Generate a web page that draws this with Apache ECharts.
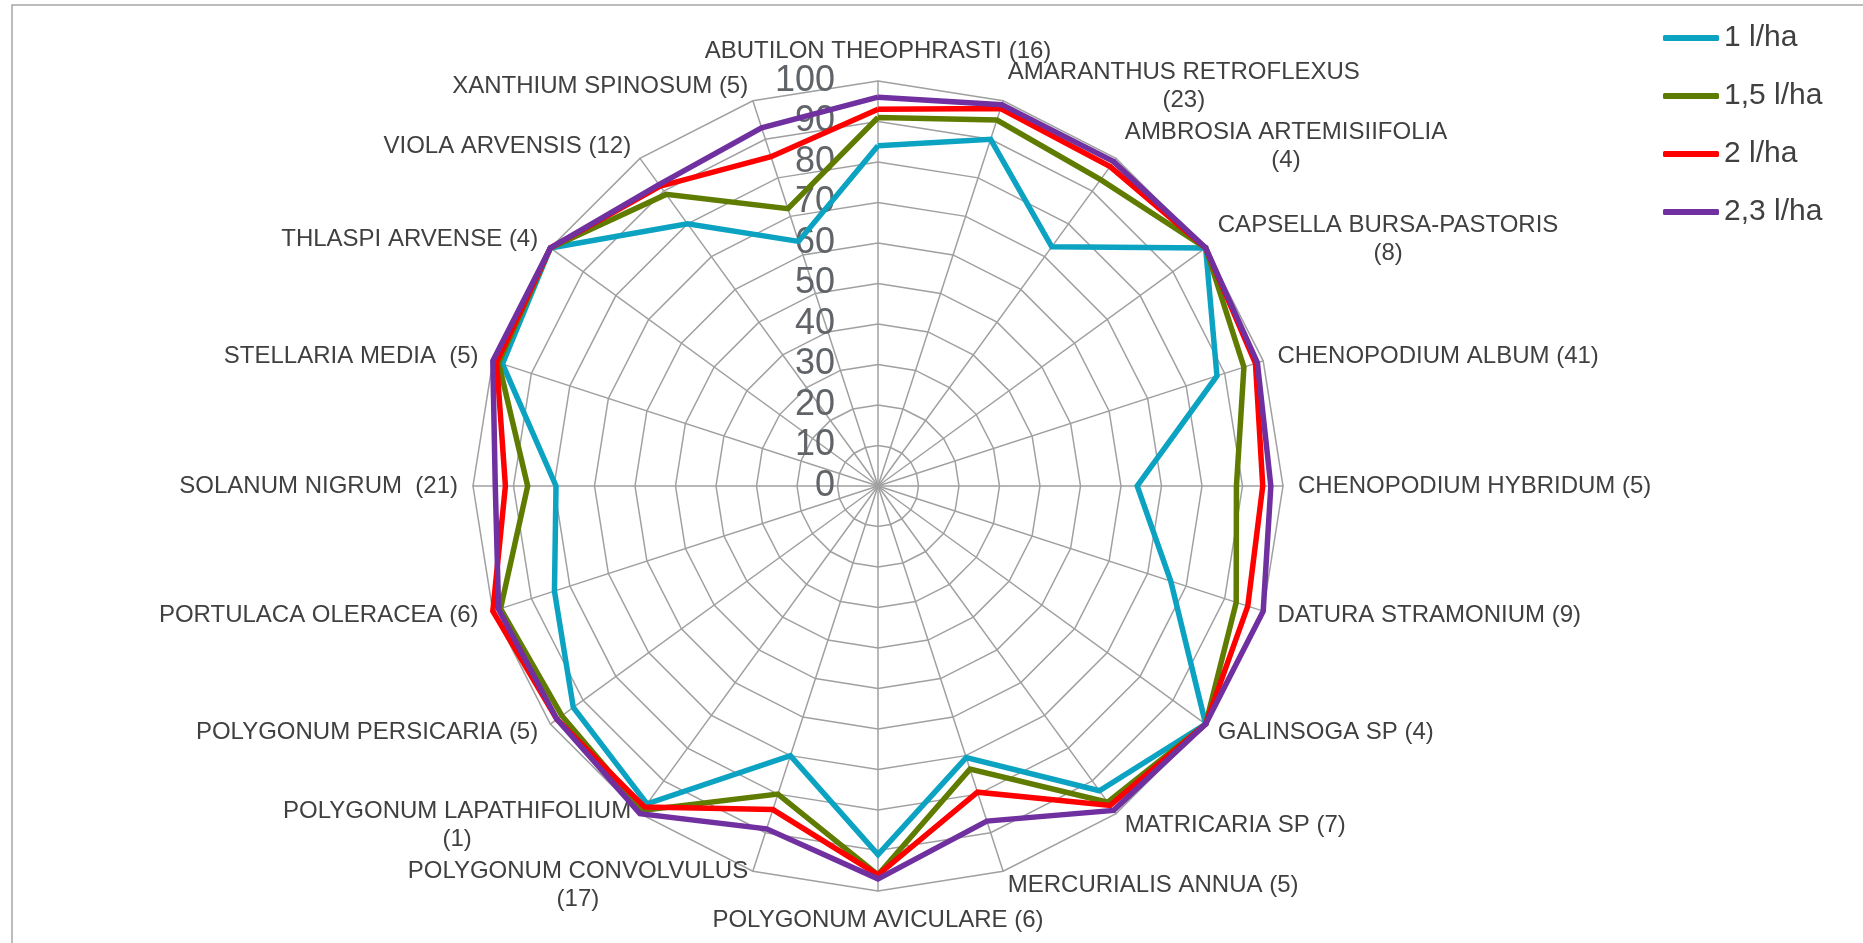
<!DOCTYPE html>
<html>
<head>
<meta charset="utf-8">
<script src="https://cdn.jsdelivr.net/npm/echarts@6/dist/echarts.min.js"></script>
<style>
  html, body { margin: 0; padding: 0; background: #fff; }
  #chart { width: 1863px; height: 943px; }
</style>
</head>
<body>
<div id="chart"></div>
<script>
// weed species (clockwise from the top), number of sites in brackets
var species = [
  "ABUTILON THEOPHRASTI (16)",
  "AMARANTHUS RETROFLEXUS\n(23)",
  "AMBROSIA ARTEMISIIFOLIA\n(4)",
  "CAPSELLA BURSA-PASTORIS\n(8)",
  "CHENOPODIUM ALBUM (41)",
  "CHENOPODIUM HYBRIDUM (5)",
  "DATURA STRAMONIUM (9)",
  "GALINSOGA SP (4)",
  "MATRICARIA SP (7)",
  "MERCURIALIS ANNUA (5)",
  "POLYGONUM AVICULARE (6)",
  "POLYGONUM CONVOLVULUS\n(17)",
  "POLYGONUM LAPATHIFOLIUM\n(1)",
  "POLYGONUM PERSICARIA (5)",
  "PORTULACA OLERACEA (6)",
  "SOLANUM NIGRUM  (21)",
  "STELLARIA MEDIA  (5)",
  "THLASPI ARVENSE (4)",
  "VIOLA ARVENSIS (12)",
  "XANTHIUM SPINOSUM (5)"
];

var doses = ["1 l/ha", "1,5 l/ha", "2 l/ha", "2,3 l/ha"];
var doseColors = ["#0BA3C1", "#5F7C00", "#FF0000", "#7030A0"];

// efficacy %, same order as species
var dose1  = [84, 90, 73, 100, 88, 64, 76, 100, 93, 70.5, 91, 70, 97, 93, 84, 79.5, 97.5, 100, 80, 63.5];
var dose15 = [91, 95, 93.5, 100, 95, 88.5, 93, 100, 96.5, 73.5, 96, 80, 99, 96.5, 98, 86.5, 98.5, 100, 89, 72];
var dose2  = [93, 98, 97.5, 100, 98, 95, 96, 100, 97.5, 79.5, 96, 84, 98, 98, 100, 92, 99, 100, 91.5, 85.5];
var dose23 = [96, 99, 99, 100, 98.5, 97, 100, 100, 99, 87, 97, 89, 100, 98, 98.5, 94.5, 100, 100, 92, 93];

var axisMin = 0, axisMax = 100, axisSplit = 10;

// echarts radar runs counter-clockwise, excel clockwise -> flip all but the first
function flip(arr) {
  return [arr[0]].concat(arr.slice(1).reverse());
}

var font = 'Arial, "Liberation Sans", sans-serif';

var indicators = flip(species).map(function (n, i) {
  var ind = { name: n, min: axisMin, max: axisMax };
  if (i === 0) ind.axisLabel = { show: true };
  return ind;
});

var allValues = [dose1, dose15, dose2, dose23];

var myChart = echarts.init(document.getElementById("chart"));

var option = {
  animation: false,
  graphic: [{
    type: "rect",
    shape: { x: 12, y: 5, width: 2000, height: 1000 },
    style: { fill: "none", stroke: "#A6A6A6", lineWidth: 1.5 },
    silent: true
  }],
  legend: {
    orient: "vertical",
    left: 1658,
    top: 18,
    itemWidth: 56,
    itemHeight: 6,
    itemGap: 28,
    icon: "roundRect",
    data: doses,
    textStyle: { color: "#404040", fontSize: 30, lineHeight: 30, fontFamily: font }
  },
  radar: {
    center: [878, 486],
    radius: 405,
    startAngle: 90,
    shape: "polygon",
    splitNumber: axisSplit,
    indicator: indicators,
    axisName: {
      color: "#404040",
      fontSize: 24,
      fontFamily: font,
      formatter: function (name) {
        var parts = name.split("\n");
        if (parts.length === 1) return "{t|" + name + "}";
        return "{t|" + parts[0] + "}\n{c|" + parts[1] + "}";
      },
      rich: {
        t: { color: "#404040", fontSize: 24, fontFamily: font, lineHeight: 28 },
        c: { color: "#404040", fontSize: 24, fontFamily: font, lineHeight: 28, align: "center" }
      }
    },
    nameGap: 15,
    axisLabel: {
      show: false,
      color: "#606468",
      fontSize: 36,
      fontFamily: font,
      margin: 43,
      showMinLabel: true,
      showMaxLabel: true,
      hideOverlap: false
    },
    axisTick: { show: false },
    axisLine: { lineStyle: { color: "#A0A0A0", width: 1.5 } },
    splitLine: { lineStyle: { color: "#A0A0A0", width: 1.5 } },
    splitArea: { show: false }
  },
  series: doses.map(function (d, k) {
    return {
      type: "radar",
      name: d,
      symbol: "none",
      color: doseColors[k],
      itemStyle: { color: doseColors[k] },
      lineStyle: { color: doseColors[k], width: 5.5, join: "miter" },
      data: [{ name: d, value: flip(allValues[k]) }]
    };
  })
};

option && myChart.setOption(option);
</script>
</body>
</html>
